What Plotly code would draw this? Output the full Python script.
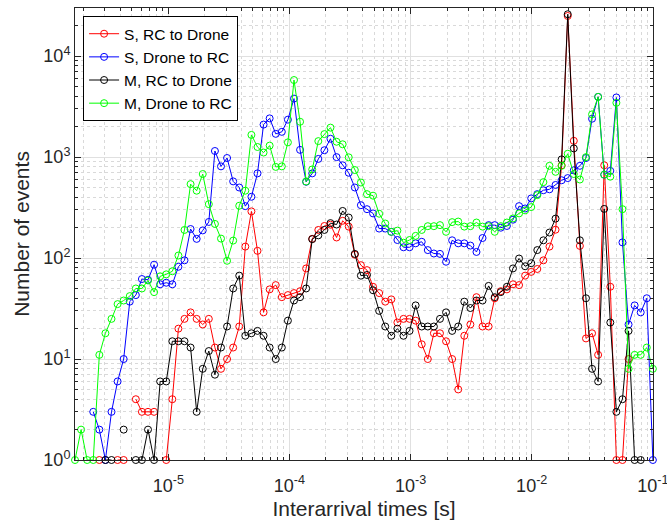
import numpy as np
import plotly.graph_objects as go

# ---- data -----------------------------------------------------------------
# log10 of the histogram bin centres (96 log-spaced bins, ~1.7 us ... 100 ms)
bin_log10 = np.linspace(-5.77, -1.0, 96)
interarrival_s = 10 ** bin_log10

N = None  # empty bin (zero count -> not drawn on a log axis)

s_rc_to_drone = [
    N, N, N, N, 1, N, N, 1, 1, N,
    4, 3, 3, 3, N, 1, 4, 20, 25, 29,
    25, 22, 25, 13, 8, 10, 13, 21, 130, 290,
    118, 29, 49, 54, 41, 43, 45, 47, 79, 155,
    190, 208, 214, 160, 234, 205, 108, 85, 76, 52,
    45, 37, 39, 23, 25, 25, 24, 14, 10, 18,
    18, 15, 10, 5, 17, 22, 41, 21, 21, 40,
    47, 49, 55, 54, 67, 73, 78, 95, 130, 191,
    830, 25000, 1450, 132, 16, 18, 11, 830, 52, 1,
    1, 10, N, N, N, N,
]

s_drone_to_rc = [
    N, N, N, 3, 2, 1, 3, 6, 10, 37,
    43, 62, 61, 86, 55, 57, 55, 82, 95, 194,
    155, 188, 228, 1150, 810, 980, 575, 500, 327, 405,
    690, 2100, 2420, 1700, 1780, 2350, 3800, 1180, 570, 690,
    960, 1170, 1520, 1000, 830, 700, 500, 334, 305, 277,
    196, 196, 182, 151, 128, 128, 140, 145, 120, 111,
    110, 92, 150, 140, 140, 133, 115, 158, 212, 212,
    200, 208, 240, 327, 310, 390, 430, 470, 480, 530,
    590, 620, 740, 820, 980, 2400, 3950, 670, 730, 3900,
    143, 22, 34, 29, 40, 1,
]

m_rc_to_drone = [
    N, N, N, N, N, 1, 1, N, 2, N,
    1, 1, 2, 1, 6, 6, 15, 15, 15, 13,
    3, 8, 12, 7, 13, 21, 50, 67, 17, 18,
    19, 17, 13, 10, 13, 24, 38, 41, 50, 154,
    168, 190, 222, 215, 293, 252, 110, 67, 68, 48,
    30, 21, 17, 20, 17, 19, 34, 21, 21, 21,
    25, 29, 19, 21, 37, 32, 38, 38, 53, 41,
    46, 52, 79, 99, 83, 89, 120, 150, 179, 246,
    950, 26000, 1220, 150, 40, 8, 6, 307, 23, 3,
    4, 19, 1, 1, N, N,
]

m_drone_to_rc = [
    1, 2, 1, 1, 11, 18, 25, 35, 38, 42,
    50, 50, 60, 46, 66, 69, 74, 106, 190, 540,
    465, 680, 342, 218, 156, 94, 149, 330, 465, 1660,
    1260, 1110, 1300, 800, 810, 1400, 5800, 2240, 573, 755,
    1440, 1690, 1960, 1420, 1340, 995, 745, 560, 430, 415,
    275, 220, 182, 187, 142, 151, 166, 190, 207, 207,
    212, 182, 227, 230, 205, 207, 225, 205, 207, 182,
    207, 225, 247, 277, 297, 320, 420, 565, 820, 715,
    820, 1080, 680, 600, 1000, 2650, 3950, 670, 640, 3450,
    305, 8, 11, 11, 13, 8,
]

series_names = ["S, RC to Drone", "S, Drone to RC", "M, RC to Drone", "M, Drone to RC"]
series_values = [s_rc_to_drone, s_drone_to_rc, m_rc_to_drone, m_drone_to_rc]
series_colors = ["#ff0000", "#0000ff", "#000000", "#00ff00"]

x_tick_vals = [1e-5, 1e-4, 1e-3, 1e-2, 1e-1]
x_tick_text = ["10<sup>-5</sup>", "10<sup>-4</sup>", "10<sup>-3</sup>", "10<sup>-2</sup>", "10<sup>-1</sup>"]
y_tick_vals = [1, 10, 100, 1000, 10000]
y_tick_text = ["10<sup>0</sup>", "10<sup>1</sup>", "10<sup>2</sup>", "10<sup>3</sup>", "10<sup>4</sup>"]

# ---- figure ---------------------------------------------------------------
FONT = "Liberation Sans, Arial, sans-serif"
AXC = "#262626"
GRID = "#e0e0e0"
MINOR_GRID = "#d9d9d9"

fig = go.Figure()
for name, vals, col in zip(series_names, series_values, series_colors):
    fig.add_trace(go.Scatter(
        x=interarrival_s, y=vals, name=name, mode="lines+markers",
        line=dict(color=col, width=1),
        marker=dict(symbol="circle-open", size=7, color=col, line=dict(width=1, color=col)),
        connectgaps=False, cliponaxis=False,
    ))

axis_common = dict(
    type="log", showline=True, linecolor=AXC, linewidth=1, mirror="allticks",
    ticks="inside", ticklen=6, tickcolor=AXC, tickwidth=1,
    showgrid=True, gridcolor=GRID, gridwidth=1,
    tickfont=dict(family=FONT, size=18, color=AXC),
    zeroline=False, automargin=False, ticklabeloverflow="allow",
    minor=dict(dtick="D1", ticks="inside", ticklen=3, tickcolor=AXC,
               showgrid=True, gridcolor=MINOR_GRID, griddash="dot", gridwidth=1),
)

fig.update_layout(
    width=667, height=527,
    margin=dict(l=75, r=14, t=8, b=67),
    paper_bgcolor="white", plot_bgcolor="white",
    font=dict(family=FONT, color=AXC),
    showlegend=True,
    legend=dict(
        x=0.014, y=0.982, xanchor="left", yanchor="top",
        bgcolor="white", bordercolor="#000000", borderwidth=1,
        font=dict(family=FONT, size=15.5, color="#000000"),
        tracegroupgap=0, itemwidth=30,
    ),
    xaxis=dict(
        **axis_common,
        range=[-5.77, -0.999],
        tickmode="array", tickvals=x_tick_vals, ticktext=x_tick_text,
        ticklabelstandoff=9,
        title=dict(text="Interarrival times [s]", font=dict(family=FONT, size=21, color=AXC), standoff=6),
    ),
    yaxis=dict(
        **axis_common,
        range=[0, 4.477],
        tickmode="array", tickvals=y_tick_vals, ticktext=y_tick_text,
        title=dict(text="Number of events", font=dict(family=FONT, size=21, color=AXC), standoff=8),
    ),
)

fig.write_html("out.html", config={"displayModeBar": False},
               post_script="document.body.style.margin='0';")
